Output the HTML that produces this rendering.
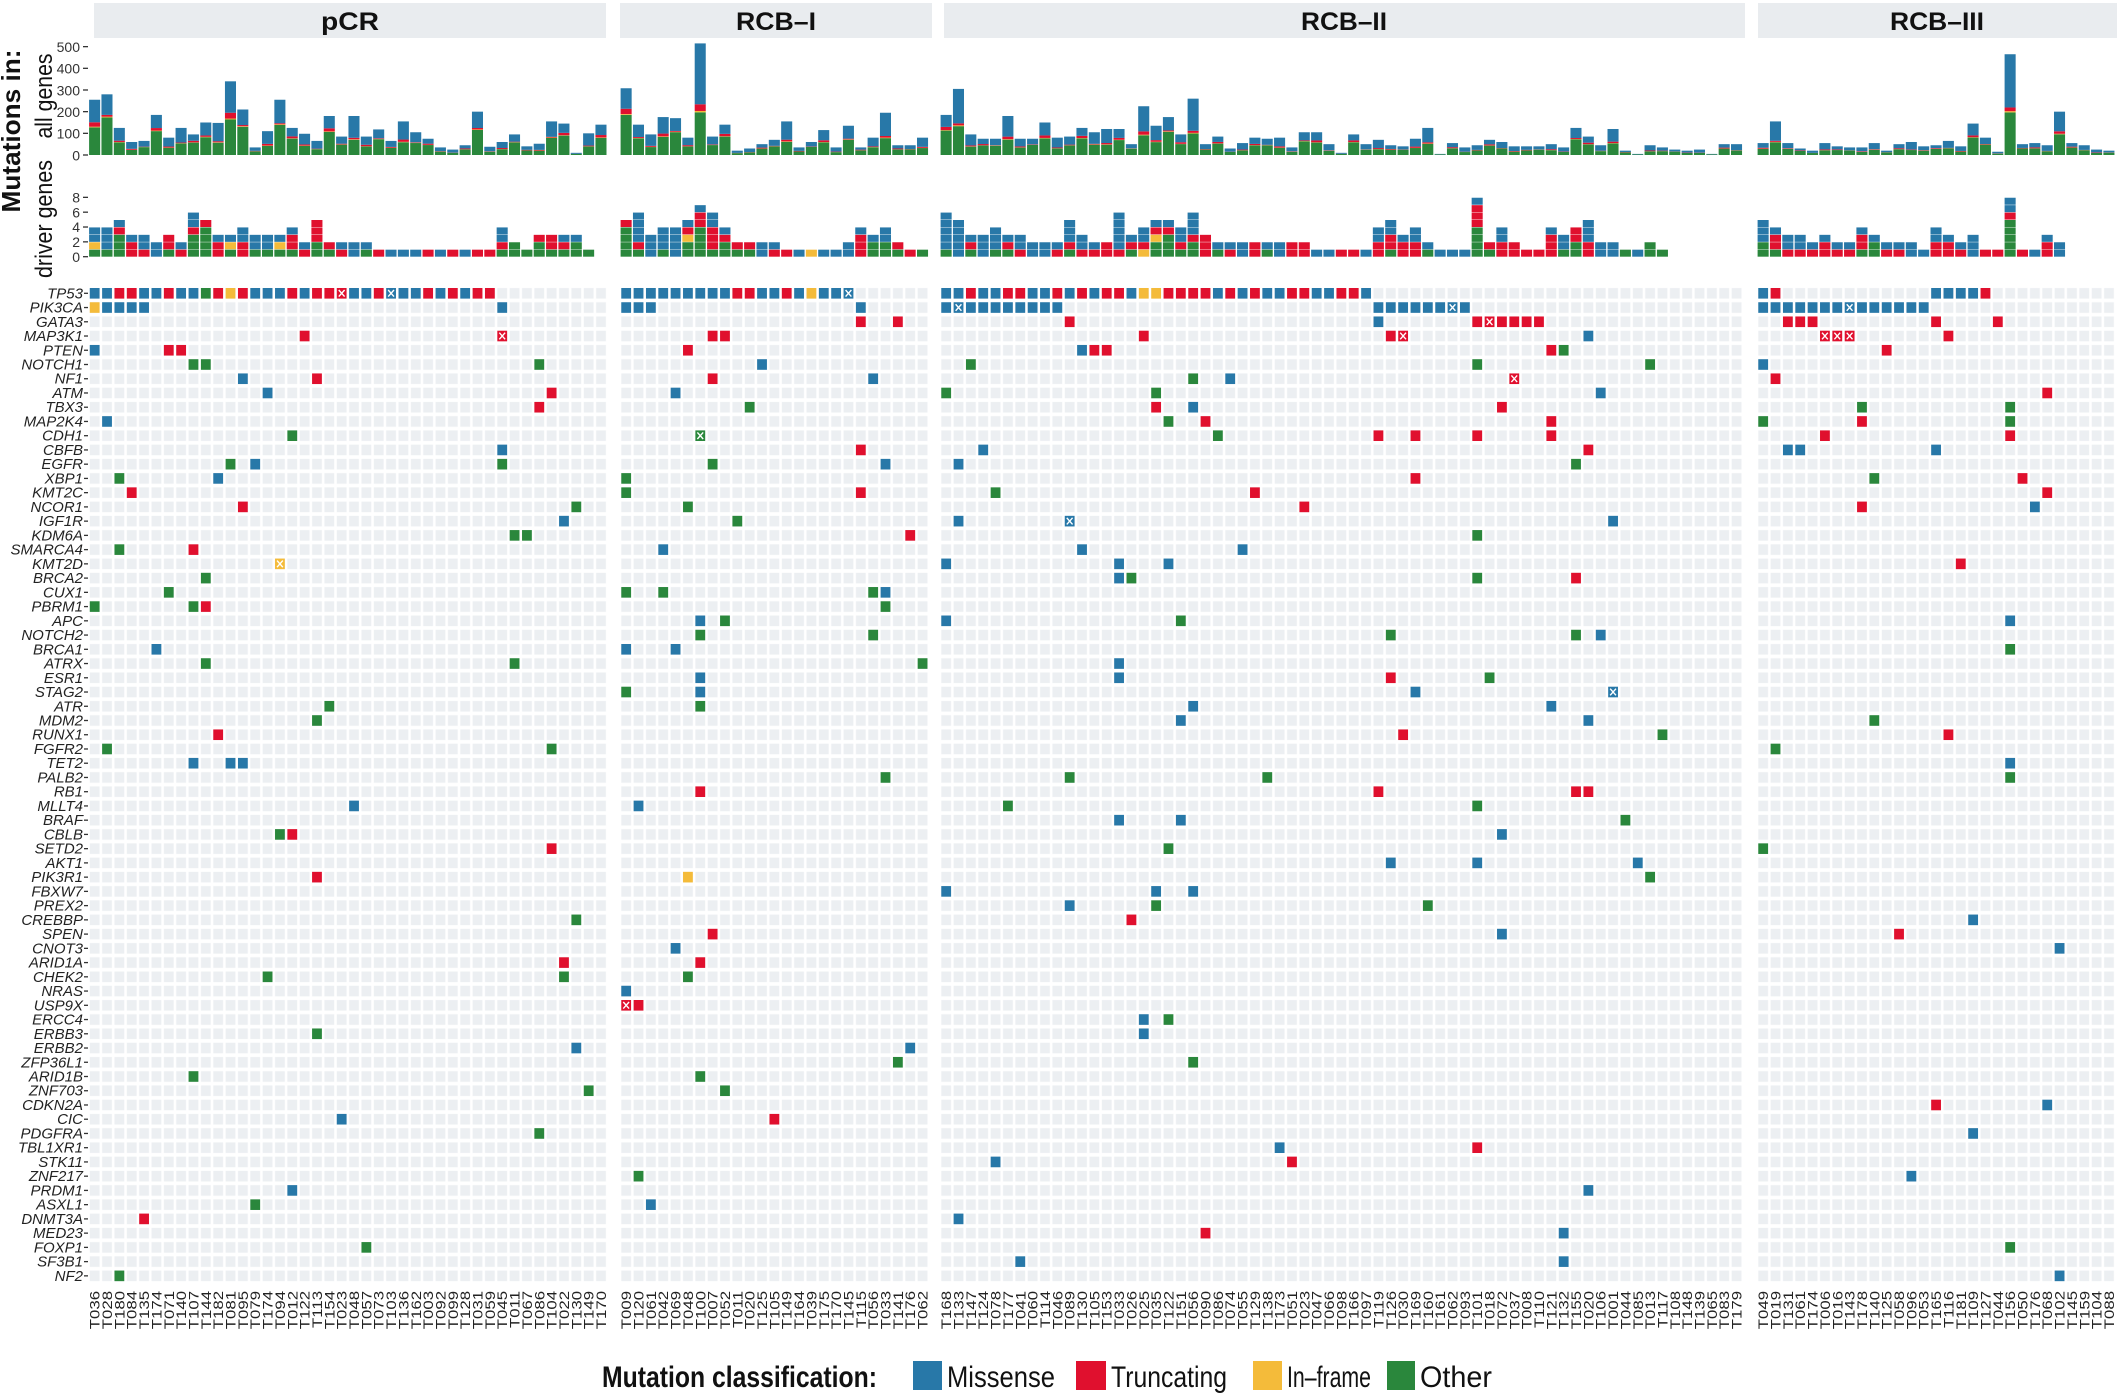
<!DOCTYPE html>
<html><head><meta charset="utf-8">
<style>
html,body{margin:0;padding:0;background:#fff;}
svg{display:block;font-family:"Liberation Sans",Arial,sans-serif;}
.gl{font-style:italic;font-size:15px;fill:#222;text-anchor:end;}
.sl{font-size:14px;fill:#222;text-anchor:end;}
.tk{font-size:14px;fill:#333;text-anchor:end;}
.st{font-size:25px;font-weight:bold;fill:#111;text-anchor:middle;}
</style></head>
<body>
<svg id="s" width="2121" height="1394" viewBox="0 0 2121 1394" xmlns="http://www.w3.org/2000/svg">
<rect width="2121" height="1394" fill="#fff"/>
<g fill="#e9ecef">
<rect x="94" y="3" width="512" height="35"/>
<rect x="620" y="3" width="312" height="35"/>
<rect x="944" y="3" width="801" height="35"/>
<rect x="1758" y="3" width="359" height="35"/>
</g>
<text class="st" x="350" y="30" textLength="58" lengthAdjust="spacingAndGlyphs">pCR</text>
<text class="st" x="776" y="30" textLength="80" lengthAdjust="spacingAndGlyphs">RCB–I</text>
<text class="st" x="1344" y="30" textLength="86" lengthAdjust="spacingAndGlyphs">RCB–II</text>
<text class="st" x="1937" y="30" textLength="94" lengthAdjust="spacingAndGlyphs">RCB–III</text>

<text transform="translate(20,131) rotate(-90)" font-size="26" font-weight="bold" text-anchor="middle" fill="#111" textLength="163" lengthAdjust="spacingAndGlyphs">Mutations in:</text>
<text transform="translate(52,96) rotate(-90)" font-size="24" text-anchor="middle" fill="#111" textLength="85" lengthAdjust="spacingAndGlyphs">all genes</text>
<text transform="translate(52,219) rotate(-90)" font-size="24" text-anchor="middle" fill="#111" textLength="118" lengthAdjust="spacingAndGlyphs">driver genes</text>

<g id="ticks1">
<text class="tk" x="80" y="52">500</text><text class="tk" x="80" y="73.6">400</text><text class="tk" x="80" y="95.3">300</text><text class="tk" x="80" y="117">200</text><text class="tk" x="80" y="138.6">100</text><text class="tk" x="80" y="160.3">0</text>
<text class="tk" x="80" y="202.5">8</text><text class="tk" x="80" y="217.3">6</text><text class="tk" x="80" y="232.2">4</text><text class="tk" x="80" y="247">2</text><text class="tk" x="80" y="261.9">0</text>
</g>

<g id="genes">
<text class="gl">TP53</text><text class="gl">PIK3CA</text><text class="gl">GATA3</text><text class="gl">MAP3K1</text><text class="gl">PTEN</text><text class="gl">NOTCH1</text><text class="gl">NF1</text><text class="gl">ATM</text><text class="gl">TBX3</text><text class="gl">MAP2K4</text><text class="gl">CDH1</text><text class="gl">CBFB</text><text class="gl">EGFR</text><text class="gl">XBP1</text><text class="gl">KMT2C</text><text class="gl">NCOR1</text><text class="gl">IGF1R</text><text class="gl">KDM6A</text><text class="gl">SMARCA4</text><text class="gl">KMT2D</text><text class="gl">BRCA2</text><text class="gl">CUX1</text><text class="gl">PBRM1</text><text class="gl">APC</text><text class="gl">NOTCH2</text><text class="gl">BRCA1</text><text class="gl">ATRX</text><text class="gl">ESR1</text><text class="gl">STAG2</text><text class="gl">ATR</text><text class="gl">MDM2</text><text class="gl">RUNX1</text><text class="gl">FGFR2</text><text class="gl">TET2</text><text class="gl">PALB2</text><text class="gl">RB1</text><text class="gl">MLLT4</text><text class="gl">BRAF</text><text class="gl">CBLB</text><text class="gl">SETD2</text><text class="gl">AKT1</text><text class="gl">PIK3R1</text><text class="gl">FBXW7</text><text class="gl">PREX2</text><text class="gl">CREBBP</text><text class="gl">SPEN</text><text class="gl">CNOT3</text><text class="gl">ARID1A</text><text class="gl">CHEK2</text><text class="gl">NRAS</text><text class="gl">USP9X</text><text class="gl">ERCC4</text><text class="gl">ERBB3</text><text class="gl">ERBB2</text><text class="gl">ZFP36L1</text><text class="gl">ARID1B</text><text class="gl">ZNF703</text><text class="gl">CDKN2A</text><text class="gl">CIC</text><text class="gl">PDGFRA</text><text class="gl">TBL1XR1</text><text class="gl">STK11</text><text class="gl">ZNF217</text><text class="gl">PRDM1</text><text class="gl">ASXL1</text><text class="gl">DNMT3A</text><text class="gl">MED23</text><text class="gl">FOXP1</text><text class="gl">SF3B1</text><text class="gl">NF2</text>
</g>

<g id="samples" transform="rotate(-90) scale(1.2,1)">
<text class="sl">T036</text><text class="sl">T028</text><text class="sl">T180</text><text class="sl">T084</text><text class="sl">T135</text><text class="sl">T174</text><text class="sl">T071</text><text class="sl">T140</text><text class="sl">T107</text><text class="sl">T144</text><text class="sl">T182</text><text class="sl">T081</text><text class="sl">T095</text><text class="sl">T079</text><text class="sl">T174</text><text class="sl">T094</text><text class="sl">T012</text><text class="sl">T122</text><text class="sl">T113</text><text class="sl">T154</text><text class="sl">T023</text><text class="sl">T048</text><text class="sl">T057</text><text class="sl">T073</text><text class="sl">T103</text><text class="sl">T136</text><text class="sl">T162</text><text class="sl">T003</text><text class="sl">T092</text><text class="sl">T099</text><text class="sl">T128</text><text class="sl">T031</text><text class="sl">T059</text><text class="sl">T045</text><text class="sl">T011</text><text class="sl">T067</text><text class="sl">T086</text><text class="sl">T104</text><text class="sl">T022</text><text class="sl">T130</text><text class="sl">T149</text><text class="sl">T170</text>
<text class="sl">T009</text><text class="sl">T120</text><text class="sl">T061</text><text class="sl">T042</text><text class="sl">T069</text><text class="sl">T048</text><text class="sl">T100</text><text class="sl">T007</text><text class="sl">T052</text><text class="sl">T011</text><text class="sl">T020</text><text class="sl">T125</text><text class="sl">T105</text><text class="sl">T149</text><text class="sl">T164</text><text class="sl">T039</text><text class="sl">T175</text><text class="sl">T170</text><text class="sl">T145</text><text class="sl">T115</text><text class="sl">T056</text><text class="sl">T033</text><text class="sl">T141</text><text class="sl">T176</text><text class="sl">T062</text>
<text class="sl">T168</text><text class="sl">T133</text><text class="sl">T147</text><text class="sl">T124</text><text class="sl">T078</text><text class="sl">T177</text><text class="sl">T041</text><text class="sl">T060</text><text class="sl">T114</text><text class="sl">T046</text><text class="sl">T089</text><text class="sl">T130</text><text class="sl">T105</text><text class="sl">T153</text><text class="sl">T033</text><text class="sl">T026</text><text class="sl">T025</text><text class="sl">T035</text><text class="sl">T122</text><text class="sl">T151</text><text class="sl">T056</text><text class="sl">T090</text><text class="sl">T086</text><text class="sl">T074</text><text class="sl">T055</text><text class="sl">T129</text><text class="sl">T138</text><text class="sl">T173</text><text class="sl">T051</text><text class="sl">T023</text><text class="sl">T047</text><text class="sl">T066</text><text class="sl">T098</text><text class="sl">T166</text><text class="sl">T097</text><text class="sl">T119</text><text class="sl">T126</text><text class="sl">T030</text><text class="sl">T169</text><text class="sl">T160</text><text class="sl">T161</text><text class="sl">T062</text><text class="sl">T093</text><text class="sl">T101</text><text class="sl">T018</text><text class="sl">T072</text><text class="sl">T037</text><text class="sl">T008</text><text class="sl">T110</text><text class="sl">T121</text><text class="sl">T132</text><text class="sl">T155</text><text class="sl">T020</text><text class="sl">T106</text><text class="sl">T001</text><text class="sl">T044</text><text class="sl">T085</text><text class="sl">T013</text><text class="sl">T117</text><text class="sl">T108</text><text class="sl">T148</text><text class="sl">T139</text><text class="sl">T065</text><text class="sl">T083</text><text class="sl">T179</text><text class="sl">T049</text>
<text class="sl">T019</text><text class="sl">T131</text><text class="sl">T061</text><text class="sl">T174</text><text class="sl">T006</text><text class="sl">T016</text><text class="sl">T143</text><text class="sl">T178</text><text class="sl">T140</text><text class="sl">T125</text><text class="sl">T058</text><text class="sl">T096</text><text class="sl">T053</text><text class="sl">T165</text><text class="sl">T116</text><text class="sl">T181</text><text class="sl">T109</text><text class="sl">T127</text><text class="sl">T044</text><text class="sl">T156</text><text class="sl">T050</text><text class="sl">T176</text><text class="sl">T068</text><text class="sl">T102</text><text class="sl">T145</text><text class="sl">T159</text><text class="sl">T104</text><text class="sl">T088</text><text class="sl">T112</text>
</g>

<g id="legend">
<text x="602" y="1387" font-size="30" font-weight="bold" fill="#111" textLength="275" lengthAdjust="spacingAndGlyphs">Mutation classification:</text>
<rect x="913" y="1361" width="29" height="29" fill="#2878a8"/>
<text x="947" y="1387" font-size="30" fill="#111" textLength="108" lengthAdjust="spacingAndGlyphs">Missense</text>
<rect x="1076" y="1361" width="30" height="29" fill="#e0102e"/>
<text x="1111" y="1387" font-size="30" fill="#111" textLength="116" lengthAdjust="spacingAndGlyphs">Truncating</text>
<rect x="1253" y="1361" width="29" height="29" fill="#f4bb3a"/>
<text x="1287" y="1387" font-size="30" fill="#111" textLength="84" lengthAdjust="spacingAndGlyphs">In–frame</text>
<rect x="1387" y="1361" width="28" height="29" fill="#2a873c"/>
<text x="1420" y="1387" font-size="30" fill="#111" textLength="72" lengthAdjust="spacingAndGlyphs">Other</text>
</g>
<g id="shapes"></g>
</svg>
<script>
(function(){
var NS="http://www.w3.org/2000/svg";
var C={B:"#2878a8",R:"#e0102e",Y:"#f4bb3a",G:"#2a873c"};
var P=12.35;
var panels=[{x0:88.5,n:42},{x0:620,n:25},{x0:940,n:65},{x0:1757,n:29}];
var Y0=293.3,RP=14.24,CW=9.8,CH=10.6;
var g=document.getElementById("shapes");
function el(t,a,par){var e=document.createElementNS(NS,t);for(var k in a)e.setAttribute(k,a[k]);(par||g).appendChild(e);return e;}
var defs=el("defs",{});
panels.forEach(function(p,i){
 var pat=el("pattern",{id:"pt"+i,patternUnits:"userSpaceOnUse",x:p.x0,y:Y0-RP/2,width:P,height:RP},defs);
 el("rect",{x:(P-CW)/2,y:(RP-CH)/2,width:CW,height:CH,fill:"#eceff2"},pat);
 el("rect",{x:p.x0,y:Y0-RP/2,width:p.n*P,height:70*RP,fill:"url(#pt"+i+")"});
});
var gl=document.querySelectorAll("#genes text");
for(var i=0;i<gl.length;i++){var y=Y0+i*RP;gl[i].setAttribute("x",83);gl[i].setAttribute("y",y+5);
 el("line",{x1:84,x2:88,y1:y,y2:y,stroke:"#333","stroke-width":1.3});}
[0,100,200,300,400,500].forEach(function(v){var y=155-v*0.2167;el("line",{x1:83,x2:88,y1:y,y2:y,stroke:"#333","stroke-width":1.3});});
[0,2,4,6,8].forEach(function(v){var y=256.7-v*7.42;el("line",{x1:83,x2:88,y1:y,y2:y,stroke:"#333","stroke-width":1.3});});
var sl=document.querySelectorAll("#samples text");var idx=0;
panels.forEach(function(p){for(var c=0;c<p.n;c++){var t=sl[idx++];if(!t)continue;var cx=p.x0+(c+0.5)*P;
 t.setAttribute("x",(-1291/1.2).toFixed(1));t.setAttribute("y",(cx+5).toFixed(1));}});
var D=[
"a0B a1B a2R a3R a4B a5B a6R a7B a8B a9G a10R a11Y a12R a13B a14B a15B a16R a17B a18R a19R a20Rx a21B a22B a23R a24Bx a25B a26B a27R a28B a29R a30B a31R a32R b0-8B b9R b10R b11B b12B b13R b14B b15Y b16B b17B b18Bx c0B c1B c2R c3B c4B c5R c6R c7B c8B c9R c10B c11R c12B c13R c14R c15B c16Y c17Y c18R c19R c20R c21R c22B c23R c24B c25R c26B c27B c28R c29R c30B c31B c32R c33R c34B d0B d1R d14-17B d18R",
"a0Y a1-4B a33B b0-2B b19B c0B c1Bx c2-9B c35-40B c41Bx c42B d0-6B d7Bx d8-13B",
"b19R b22R c10R c35B c43R c44Rx c45-48R d2-4R d14R d19R",
"a17R a33Rx b7R b8R c16R c36R c37Rx c52B d5Rx d6Rx d7Rx d15R",
"a0B a6R a7R b5R c11B c12R c13R c49R c50G d10R",
"a8G a9G a36G b11B c2G c43G c57G d0B",
"a12B a18R b7R b20B c20G c23B c46Rx d1R",
"a14B a37R b4B c0G c17G c53B d23R",
"a36R b10G c17R c20B c45R d8G d20G",
"a1B c18G c21R c49R d0G d8R d20G",
"a16G b6Gx c22G c35R c38R c43R c49R d5R d20R",
"a33B b19R c3B c52R d2B d3B d14B",
"a11G a13B a33G b7G b21B c1B c51G",
"a2G a10B b0G c38R d9G d21R",
"a3R b0G b19R c4G c25R d23R",
"a12R a39G b5G c29R d8R d22B",
"a38B b9G c1B c10Bx c54B",
"a34G a35G b23R c43G",
"a2G a8R b3B c11B c24B",
"a15Yx c0B c14B c18B d16R",
"a9G c14B c15G c43G c51R",
"a6G b0G b3G b20G b21B",
"a0G a8G a9R b21G",
"b6B b8G c0B c19G d20B",
"b6G b20G c36G c51G c53B",
"a5B b0B b4B d20G",
"a9G a34G b24G c14B",
"b6B c14B c36R c44G",
"b0G b6B c38B c54Bx",
"a19G b6G c20B c49B",
"a18G c19B c52B d9G",
"a10R c37R c58G d15R",
"a1G a37G d1G",
"a8B a11B a12B d20B",
"b21G c10G c26G d20G",
"b6R c35R c51R c52R",
"a21B b1B c5G c43G",
"c14B c19B c55G",
"a15G a16R c45B",
"a37R c18G d0G",
"c36B c43B c56B",
"a18R b5Y c57G",
"c0B c17B c20B",
"c10B c17G c39G",
"a39G c15R d17B",
"b7R c45B d11R",
"b4B d24B",
"a38R b6R",
"a14G a38G b5G",
"b0B",
"b0Rx b1R",
"c16B c18G",
"a18G c16B",
"a39B b23B",
"b22G c20G",
"a8G b6G",
"a40G b8G",
"d14R d23B",
"a20B b12R",
"a36G d17B",
"c27B c43R",
"c4B c28R",
"b1G d12B",
"a16B c52B",
"a13G b2B",
"a4R c1B",
"c21R c50B",
"a22G d20G",
"c6B c50B",
"a2G d24B"
];
var pm={a:0,b:1,c:2,d:3};
var drv=panels.map(function(p){var a=[];for(var i=0;i<p.n;i++)a.push({G:0,Y:0,R:0,B:0});return a;});
D.forEach(function(s,row){
 s.split(" ").forEach(function(tok){
  var m=tok.match(/([abcd])(\d+)(?:-(\d+))?([BRYG])(x?)/);if(!m)return;
  var pi=pm[m[1]],a=+m[2],b=m[3]?+m[3]:a,t=m[4],x=m[5];
  for(var c=a;c<=b;c++){
   var p=panels[pi];if(c>=p.n)continue;
   var rx=p.x0+c*P+(P-CW)/2,ry=Y0+row*RP-CH/2;
   el("rect",{x:rx,y:ry,width:CW,height:CH,fill:C[t]});
   if(x){el("path",{d:"M"+(rx+2)+" "+(ry+2)+"L"+(rx+CW-2)+" "+(ry+CH-2)+"M"+(rx+CW-2)+" "+(ry+2)+"L"+(rx+2)+" "+(ry+CH-2),stroke:"#fff","stroke-width":1.4});}
   drv[pi][c][t]++;
  }
 });
});
// observed totals override for RCB-I
var OBS1=[5,6,3,4,4,5,7,6,4,2,2,2,2,1,1,1,1,1,2,4,3,4,2,1,1];
OBS1.forEach(function(tot,c){
 var d=drv[1][c];var s=d.G+d.Y+d.R+d.B;
 var order=["B","R","Y","G"];
 while(s>tot){for(var i=0;i<4;i++){if(d[order[i]]>0){d[order[i]]--;s--;break;}}}
 while(s<tot){d.B++;s++;}
});
var T=[
[255,280,125,60,65,185,80,125,95,150,148,340,210,35,110,255,125,98,65,180,85,180,85,118,65,155,105,75,35,25,45,200,38,60,95,40,52,155,145,10,100,140],
[308,140,95,175,170,80,515,85,140,20,30,50,70,155,35,60,115,35,135,35,80,195,45,45,80],
[185,305,95,75,75,180,75,75,150,80,85,125,105,120,120,50,225,135,175,95,260,50,85,30,55,80,75,80,35,105,105,50,10,95,50,70,45,40,75,125,5,55,35,45,70,60,40,40,40,50,35,125,85,45,120,20,5,45,35,25,20,25,5,50,50],
[55,155,55,30,20,55,40,35,35,55,20,50,60,40,45,65,40,145,80,15,465,50,55,45,200,55,45,25,20]];
var K=0.2167,base=155;
panels.forEach(function(p,pi){
 for(var c=0;c<p.n;c++){
  var t=T[pi][c]||0;var x=p.x0+c*P+0.6,w=P-1.3;
  var f=0.5+0.12*Math.sin(c*1.7+pi);
  var segs=[["G",t*f],["Y",t*0.012],["R",t*(0.05+0.03*Math.cos(c*2.3))],["B",0]];
  segs[3][1]=t-segs[0][1]-segs[1][1]-segs[2][1];
  var y=base;
  segs.forEach(function(sg){var h=sg[1]*K;if(h<=0)return;y-=h;el("rect",{x:x,y:y,width:w,height:h,fill:C[sg[0]]});});
  var d=drv[pi][c],yy=256.7;
  ["G","Y","R","B"].forEach(function(k){for(var j=0;j<d[k];j++){yy-=7.42;el("rect",{x:x,y:yy+0.4,width:w,height:7.0,fill:C[k]});}});
 }
});
})();
</script>
</body></html>
